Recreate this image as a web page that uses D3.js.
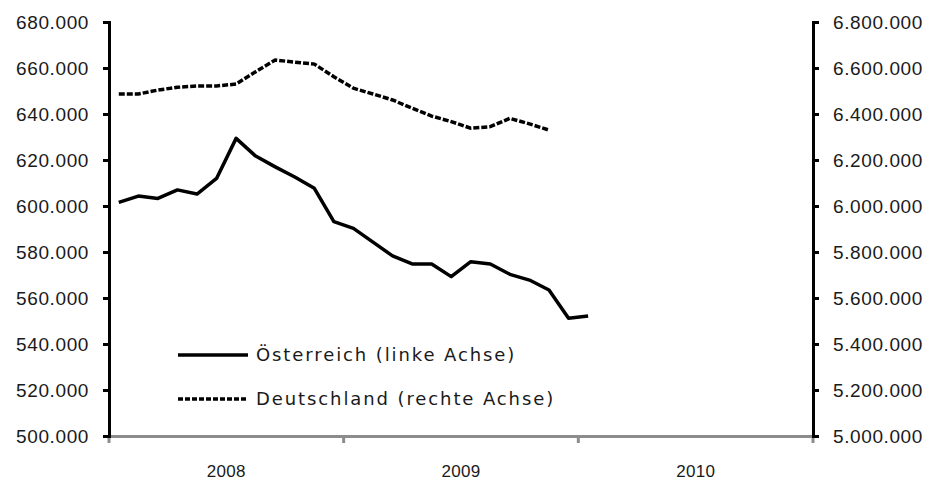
<!DOCTYPE html>
<html>
<head>
<meta charset="utf-8">
<script src="https://cdn.jsdelivr.net/npm/d3@7"></script>
<style>
  body { margin: 0; background: #fff; }
  svg { display: block; font-family: "DejaVu Sans", sans-serif; }
  .tick text { fill: #1a1a1a; font-size: 19px; letter-spacing: 0.6px; }
  .xaxis .tick text { font-size: 17px; letter-spacing: 0.3px; }
</style>
</head>
<body>
<svg id="drawing_region"></svg>
<script>
// Monatswerte Jan 2008 ...
const years = ["2008", "2009", "2010"];
const months = [];
years.forEach(y => { for (let m = 1; m <= 12; m++) months.push(y + "-" + m); });

const oesterreich = [601600, 604300, 603300, 607000, 605200, 612000, 629400, 621700, 617000, 612600,
    607700, 593200, 590300, 584300, 578300, 574800, 574800, 569300, 575800, 574800,
    570300, 567800, 563500, 551200, 552200];
const deutschland = [6487000, 6487000, 6504000, 6516000, 6522000, 6522000, 6530000, 6584000, 6635000, 6625000,
    6617000, 6562000, 6512000, 6487000, 6461000, 6425000, 6391000, 6367000, 6338000, 6345000,
    6381000, 6357000, 6330000];

const leftTicks = d3.range(500000, 680001, 20000);
const rightTicks = d3.range(5000000, 6800001, 200000);
const legendLabels = ["Österreich (linke Achse)", "Deutschland (rechte Achse)"];

const config = { width: 933, height: 482, left: 109, right: 813, top: 22, bottom: 436 };

const de = d3.formatLocale({ decimal: ",", thousands: ".", grouping: [3], currency: ["", " €"] });
const fmt = de.format(",");

const svg = d3.select("#drawing_region")
    .attr("width", config.width)
    .attr("height", config.height);

const x = d3.scaleBand().domain(months).range([config.left, config.right]).padding(0);
const xYear = d3.scaleBand().domain(years).range([config.left, config.right]).padding(0);
const yL = d3.scaleLinear().domain([500000, 680000]).range([config.bottom, config.top]);
const yR = d3.scaleLinear().domain([5000000, 6800000]).range([config.bottom, config.top]);

// x-Achse (grau)
const xAxis = svg.append("g")
    .attr("class", "xaxis")
    .attr("transform", `translate(0,${config.bottom})`)
    .call(d3.axisBottom(xYear).tickSize(0).tickPadding(35));
xAxis.select(".domain").attr("stroke", "#8c8c8c").attr("stroke-width", 3);
xAxis.selectAll(".tick text").attr("dy", "0.35em");

const boundaries = years.map(y => xYear(y)).concat([xYear(years[years.length - 1]) + xYear.bandwidth()]);
svg.append("g").selectAll("line")
    .data(boundaries)
    .join("line")
    .attr("x1", d => d).attr("x2", d => d)
    .attr("y1", config.bottom).attr("y2", config.bottom + 7)
    .attr("stroke", "#8c8c8c").attr("stroke-width", 3);

// linke Achse
const gL = svg.append("g")
    .attr("transform", `translate(${config.left},0)`)
    .call(d3.axisLeft(yL).tickValues(leftTicks).tickFormat(fmt).tickSize(6).tickSizeOuter(6).tickPadding(14));
gL.select(".domain").attr("stroke", "#000").attr("stroke-width", 3);
gL.selectAll(".tick line").attr("stroke", "#000").attr("stroke-width", 3);

// rechte Achse
const gR = svg.append("g")
    .attr("transform", `translate(${config.right},0)`)
    .call(d3.axisRight(yR).tickValues(rightTicks).tickFormat(fmt).tickSize(6).tickSizeOuter(6).tickPadding(14));
gR.select(".domain").attr("stroke", "#000").attr("stroke-width", 3);
gR.selectAll(".tick line").attr("stroke", "#000").attr("stroke-width", 3);

// Linien
const lineL = d3.line()
    .x((d, i) => x(months[i]) + x.bandwidth() / 2)
    .y(d => yL(d));
const lineR = d3.line()
    .x((d, i) => x(months[i]) + x.bandwidth() / 2)
    .y(d => yR(d));

svg.append("path")
    .datum(oesterreich)
    .attr("d", lineL)
    .attr("fill", "none")
    .attr("stroke", "#000")
    .attr("stroke-width", 3.5)
    .attr("stroke-linejoin", "round");

svg.append("path")
    .datum(deutschland)
    .attr("d", lineR)
    .attr("fill", "none")
    .attr("stroke", "#000")
    .attr("stroke-width", 3.5)
    .attr("stroke-dasharray", "6,2");

// Legende
const legend = svg.append("g").attr("transform", "translate(178,355)");
const item = legend.selectAll("g")
    .data(legendLabels)
    .join("g")
    .attr("transform", (d, i) => `translate(0,${i * 44})`);
item.append("line")
    .attr("x1", 0).attr("x2", 70)
    .attr("stroke", "#000")
    .attr("stroke-width", 3.5)
    .attr("stroke-dasharray", (d, i) => i === 0 ? null : "5,2");
item.append("text")
    .attr("x", 78)
    .attr("dy", "0.35em")
    .attr("fill", "#1a1a1a")
    .style("font-size", "18px")
    .style("letter-spacing", "1.9px")
    .text(d => d);
</script>
</body>
</html>
